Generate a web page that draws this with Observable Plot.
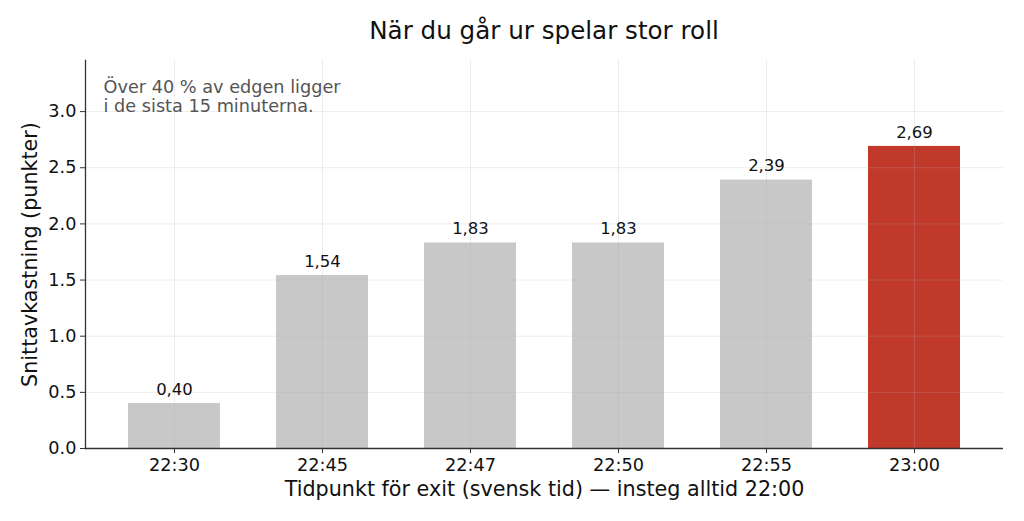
<!DOCTYPE html>
<html>
<head>
<meta charset="utf-8">
<script src="https://cdn.jsdelivr.net/npm/d3@7"></script>
<script src="https://cdn.jsdelivr.net/npm/@observablehq/plot@0.6"></script>
<style>
  html, body { margin: 0; padding: 0; background: #fff; }
  body { width: 1024px; height: 521px; overflow: hidden; font-family: "DejaVu Sans", sans-serif; }
  #title { height: 50px; position: relative; }
  #title span { position: absolute; left: 544px; top: 19px; transform: translateX(-50%); font-size: 24.6px; line-height: 1; color: #111; white-space: nowrap; }
  svg { display: block; }
</style>
</head>
<body>
<div id="title"><span>När du går ur spelar stor roll</span></div>
<div id="chart"></div>
<script>
const categories = ["22:30", "22:45", "22:47", "22:50", "22:55", "23:00"];
const values = [0.40, 1.54, 1.83, 1.83, 2.39, 2.69];
const valueLabels = ["0,40", "1,54", "1,83", "1,83", "2,39", "2,69"];
const highlight = "23:00";
const yTicks = [0, 0.5, 1.0, 1.5, 2.0, 2.5, 3.0];
const yLabel = "Snittavkastning (punkter)";
const xLabel = "Tidpunkt för exit (svensk tid) — insteg alltid 22:00";
const noteLines = ["Över 40 % av edgen ligger", "i de sista 15 minuterna."];

const data = categories.map((c, i) => ({cat: c, value: values[i], label: valueLabels[i]}));

const chart = Plot.plot({
  width: 1024,
  height: 471,
  marginLeft: 85,
  marginRight: 21,
  marginTop: 10,
  marginBottom: 73,
  style: {fontFamily: "DejaVu Sans, sans-serif", background: "#fff", color: "#111"},
  x: {domain: categories, paddingInner: 0.38, paddingOuter: 0.281, align: 0.5, label: null},
  y: {domain: [0, 3.455], label: null},
  marks: [
    Plot.barY(data, {x: "cat", y: "value", fill: d => d.cat === highlight ? "#c0392b" : "#c8c8c8"}),
    Plot.gridY(yTicks, {stroke: "#b0b0b0", strokeOpacity: 0.3, strokeWidth: 0.8}),
    Plot.gridX(categories, {stroke: "#b0b0b0", strokeOpacity: 0.3, strokeWidth: 0.8}),
    Plot.axisY(yTicks, {tickFormat: d3.format(".1f"), fontSize: 17.7, tickSize: 5, tickPadding: 4, stroke: "#333", fill: "#111", label: null}),
    Plot.axisX(categories, {fontSize: 17.7, tickSize: 5, tickPadding: 5, stroke: "#333", fill: "#111", label: null}),
    Plot.ruleY([0], {stroke: "#333", strokeWidth: 1.3}),
    Plot.frame({anchor: "left", stroke: "#333", strokeWidth: 1.3}),
    Plot.text(data, {x: "cat", y: "value", text: "label", dy: -14, fontSize: 16.5, fill: "#111"}),
    Plot.text([noteLines[0]], {text: d => d, frameAnchor: "top-left", lineAnchor: "middle", dx: 18, dy: 27, fontSize: 17.7, fill: "#555", textAnchor: "start"}),
    Plot.text([noteLines[1]], {text: d => d, frameAnchor: "top-left", lineAnchor: "middle", dx: 18, dy: 46, fontSize: 17.7, fill: "#555", textAnchor: "start"}),
    Plot.text([yLabel], {text: d => d, frameAnchor: "left", textAnchor: "middle", lineAnchor: "middle", dx: -55, rotate: -90, fontSize: 20.7, fill: "#111"}),
    Plot.text([xLabel], {text: d => d, frameAnchor: "bottom", lineAnchor: "middle", dy: 41, fontSize: 20.7, fill: "#111"})
  ]
});
document.getElementById("chart").appendChild(chart);
</script>
</body>
</html>
